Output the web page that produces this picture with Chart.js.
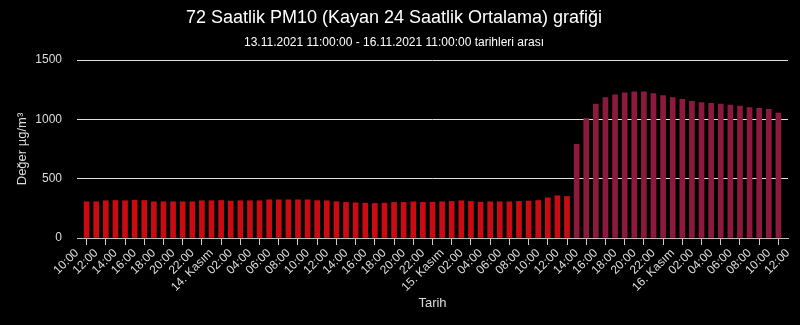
<!DOCTYPE html>
<html>
<head>
<meta charset="utf-8">
<script src="https://cdn.jsdelivr.net/npm/chart.js@4"></script>
<style>
  html, body { margin: 0; background: #000; }
  #kutu { width: 800px; height: 325px; }
</style>
</head>
<body>
<div id="kutu"><canvas id="grafik"></canvas></div>
<script>
// x = saat sayısı, 13.11.2021 10:00'dan itibaren
const ilkSaat = 10;
const ilkGun = 13;
const sonX = 74;

// 13.11.2021 11:00 -> 16.11.2021 11:00, saatlik PM10 (kayan 24 saat ortalaması)
const pm10 = [
  305, 305, 314, 316, 314, 319, 316, 305, 305, 305, 305, 305, 314,
  314, 316, 311, 314, 314, 314, 322, 322, 322, 322, 322, 315, 314,
  305, 300, 297, 294, 291, 294, 300, 300, 305, 300, 302, 305, 308,
  314, 308, 302, 305, 305, 305, 308, 311, 316, 338, 356, 350, 790,
  1008, 1128, 1184, 1207, 1224, 1232, 1232, 1218, 1201, 1184, 1168, 1151,
  1142, 1134, 1128, 1120, 1112, 1100, 1092, 1084, 1053
];

const yAdimlari = [0, 500, 1000, 1500];

function renk(deger) {
  return deger > 520 ? 'rgb(140,26,62)' : 'rgb(200,12,18)';
}

function saatEtiketi(v) {
  const toplam = ilkSaat + v;
  const saat = toplam % 24;
  if (saat === 0) return (ilkGun + Math.floor(toplam / 24)) + '. Kasım';
  return String(saat).padStart(2, '0') + ':00';
}

const yazi = 'Liberation Sans';

const config = {
  type: 'bar',
  data: {
    datasets: [{
      data: pm10.map((v, i) => ({ x: i + 1, y: v })),
      backgroundColor: ctx => renk(ctx.raw ? ctx.raw.y : 0),
      barThickness: 5
    }]
  },
  options: {
    responsive: true,
    maintainAspectRatio: false,
    animation: false,
    layout: { padding: { left: 0, right: 12, top: 0, bottom: 0 } },
    plugins: {
      legend: { display: false },
      tooltip: { enabled: false },
      title: {
        display: true,
        text: '72 Saatlik PM10 (Kayan 24 Saatlik Ortalama) grafiği',
        color: '#fff',
        font: { family: yazi, size: 18, weight: 'normal' },
        padding: { top: 7, bottom: 2 }
      },
      subtitle: {
        display: true,
        text: '13.11.2021 11:00:00 - 16.11.2021 11:00:00 tarihleri arası',
        color: '#fff',
        font: { family: yazi, size: 12 },
        padding: { top: 5, bottom: 10 }
      }
    },
    scales: {
      x: {
        type: 'linear',
        min: 0,
        max: sonX,
        offset: false,
        ticks: {
          stepSize: 2,
          autoSkip: false,
          minRotation: 45,
          maxRotation: 45,
          color: '#ddd',
          padding: 1,
          font: { family: yazi, size: 12 },
          callback: v => saatEtiketi(v)
        },
        grid: { drawOnChartArea: false, drawTicks: true, tickLength: 7, color: '#ccc' },
        border: { color: '#bbb' },
        title: {
          display: true,
          text: 'Tarih',
          color: '#ddd',
          font: { family: yazi, size: 13 },
          padding: { top: 4, bottom: 14 }
        },
        afterFit: s => { s.height = 87; }
      },
      y: {
        min: 0,
        max: 1500,
        afterBuildTicks: s => { s.ticks = yAdimlari.map(v => ({ value: v })); },
        ticks: {
          color: '#ddd',
          padding: 15,
          font: { family: yazi, size: 12 },
          callback: v => String(v)
        },
        grid: { color: '#e0e0e0', drawTicks: false },
        border: { display: false },
        title: {
          display: true,
          text: 'Değer µg/m³',
          color: '#ddd',
          font: { family: yazi, size: 13 },
          padding: { top: 15, bottom: 4 }
        },
        afterFit: s => { s.width = 77; }
      }
    }
  }
};

new Chart(document.getElementById('grafik').getContext('2d'), config);
</script>
</body>
</html>
